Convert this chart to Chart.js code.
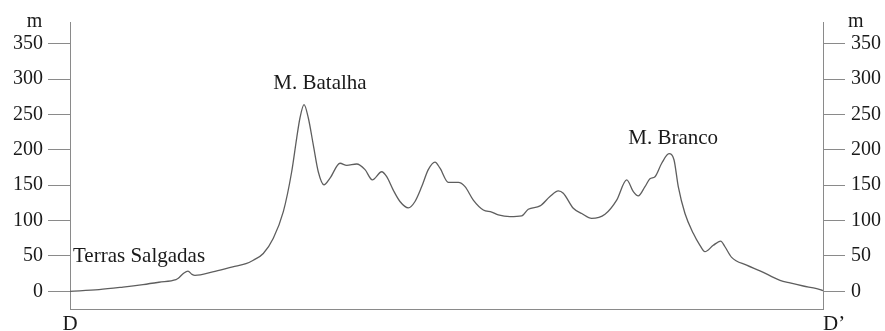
<!DOCTYPE html>
<html>
<head>
<meta charset="utf-8">
<title>Perfil topográfico D–D’</title>
<script src="https://cdn.jsdelivr.net/npm/chart.js@4/dist/chart.umd.min.js"></script>
<style>
  html, body { margin: 0; padding: 0; background: #fff; }
  #wrap { width: 885px; height: 331px; position: relative; }
  .fontprobe { font-family: "Liberation Serif", "DejaVu Serif", serif; position: absolute; left: -9999px; }
</style>
</head>
<body>
<span class="fontprobe">D 0123456789 m</span>
<div id="wrap"><canvas id="perfil"></canvas></div>
<script>
// Distance along the section D–D’ (0 = D, 100 = D’)
const distance = [
  0, 3.85, 7.04, 9.69, 11.82, 14.08, 14.34, 15.14, 15.67, 16.2, 16.6,
  18.95, 21.61, 23.37, 24.34, 25.67, 27.0, 28.33, 29.44, 30.11, 30.54,
  31.08, 31.65, 32.31, 32.97, 33.73, 34.53, 35.86, 36.75, 38.07, 39.18,
  40.15, 41.39, 42.06, 42.93, 43.82, 44.93, 45.82, 46.71, 47.58, 48.47,
  49.14, 50.24, 51.57, 52.46, 53.56, 54.89, 56.0, 56.88, 58.43, 59.99,
  60.86, 62.42, 63.74, 64.85, 65.51, 66.84, 67.96, 69.28, 71.05, 72.6,
  73.93, 74.81, 75.47, 76.36, 77.02, 77.69, 78.58, 79.55, 80.21, 80.78,
  81.67, 82.77, 83.66, 84.32, 85.43, 86.41, 86.98, 87.87, 89.86, 91.63,
  94.29, 95.62, 97.38, 99.16, 100
];

// Elevation (m) at each distance
const elevation = [
  0, 2.4, 6, 9.5, 12.8, 16.6, 18, 26, 28.5, 24, 22.5,
  27.4, 34.5, 39, 44, 53.5, 75, 112.6, 169, 217, 245,
  264, 245, 207, 169, 150.5, 160, 181, 178, 180, 172,
  157.6, 169, 162, 143, 127, 118, 127, 148, 172, 182.7,
  174, 154, 154, 148, 129, 115, 112, 108, 105.5, 106.5,
  116, 120.7, 134, 142, 138.7, 117.4, 110, 103, 109, 129,
  157.6, 141, 135, 148, 159, 162, 181, 194.5, 186, 148,
  110, 82, 65, 56, 65, 71, 63, 48, 37, 29,
  15.6, 11.8, 7.5, 3.8, 1
];

// Elevation tick values shown on both vertical axes
const elevationTicks = [0, 50, 100, 150, 200, 250, 300, 350];

// End points of the section and place names along it
const endLabels = ['D', 'D’'];
const placeNames = ['Terras Salgadas', 'M. Batalha', 'M. Branco'];

const SERIF = "'Liberation Serif', 'DejaVu Serif', serif";
const AXIS_GREY = '#8a8a8a';

const points = distance.map((d, i) => ({ x: d, y: elevation[i] }));

// Text that sits around the axes and along the profile
const profileText = {
  id: 'profileText',
  afterDraw(chart) {
    const { ctx, scales } = chart;
    const x = scales.x, y = scales.y;
    ctx.save();
    ctx.fillStyle = '#1a1a1a';

    // unit labels above each elevation axis
    ctx.font = '20px ' + SERIF;
    ctx.textBaseline = 'alphabetic';
    ctx.textAlign = 'center';
    ctx.fillText('m', 34.5, 27);
    ctx.textAlign = 'left';
    ctx.fillText('m', 848, 27);

    // section end points
    ctx.font = '21px ' + SERIF;
    ctx.textAlign = 'center';
    ctx.fillText(endLabels[0], x.getPixelForValue(0), 330);
    ctx.textAlign = 'left';
    ctx.fillText(endLabels[1], x.getPixelForValue(100), 330);

    // place names
    const places = [
      { d: 0.4, v: 41.4, align: 'left' },
      { d: 33.2, v: 285.5, align: 'center' },
      { d: 80.1, v: 208, align: 'center' }
    ];
    places.forEach((p, i) => {
      ctx.textAlign = p.align;
      ctx.fillText(placeNames[i], x.getPixelForValue(p.d), y.getPixelForValue(p.v));
    });
    ctx.restore();
  }
};

const keepElevationTicks = scale => {
  scale.ticks = elevationTicks.map(v => ({ value: v }));
};

const elevationAxis = (position, width, padding) => ({
  type: 'linear',
  position,
  min: -25,
  max: 380,
  afterBuildTicks: keepElevationTicks,
  afterFit: s => { s.width = width; },
  grid: {
    display: true,
    drawOnChartArea: false,
    drawTicks: true,
    tickLength: 22,
    color: AXIS_GREY,
    lineWidth: 1
  },
  border: { display: true, color: AXIS_GREY, width: 1 },
  ticks: {
    color: '#1a1a1a',
    padding,
    font: { family: SERIF, size: 20 },
    callback: v => String(v)
  }
});

function drawProfile() {
  new Chart(document.getElementById('perfil'), {
    type: 'line',
    data: {
      datasets: [{
        data: points,
        borderColor: '#5e5e5e',
        borderWidth: 1.3,
        pointRadius: 0,
        fill: false,
        cubicInterpolationMode: 'monotone'
      }]
    },
    options: {
      responsive: true,
      maintainAspectRatio: false,
      animation: false,
      devicePixelRatio: 1,
      layout: { padding: { top: 22.5, left: 0, right: 0, bottom: 0 } },
      plugins: {
        legend: { display: false },
        tooltip: { enabled: false }
      },
      scales: {
        x: {
          type: 'linear',
          min: 0,
          max: 100,
          afterFit: s => { s.height = 22; },
          grid: { display: false },
          border: { display: true, color: AXIS_GREY, width: 1 },
          ticks: { display: false }
        },
        y: elevationAxis('left', 70, 5),
        y2: elevationAxis('right', 62, 6)
      }
    },
    plugins: [profileText]
  });
}

Chart.defaults.font.family = SERIF;
if (document.fonts && document.fonts.load) {
  document.fonts.load("20px 'Liberation Serif'").then(drawProfile, drawProfile);
} else {
  drawProfile();
}
</script>
</body>
</html>
